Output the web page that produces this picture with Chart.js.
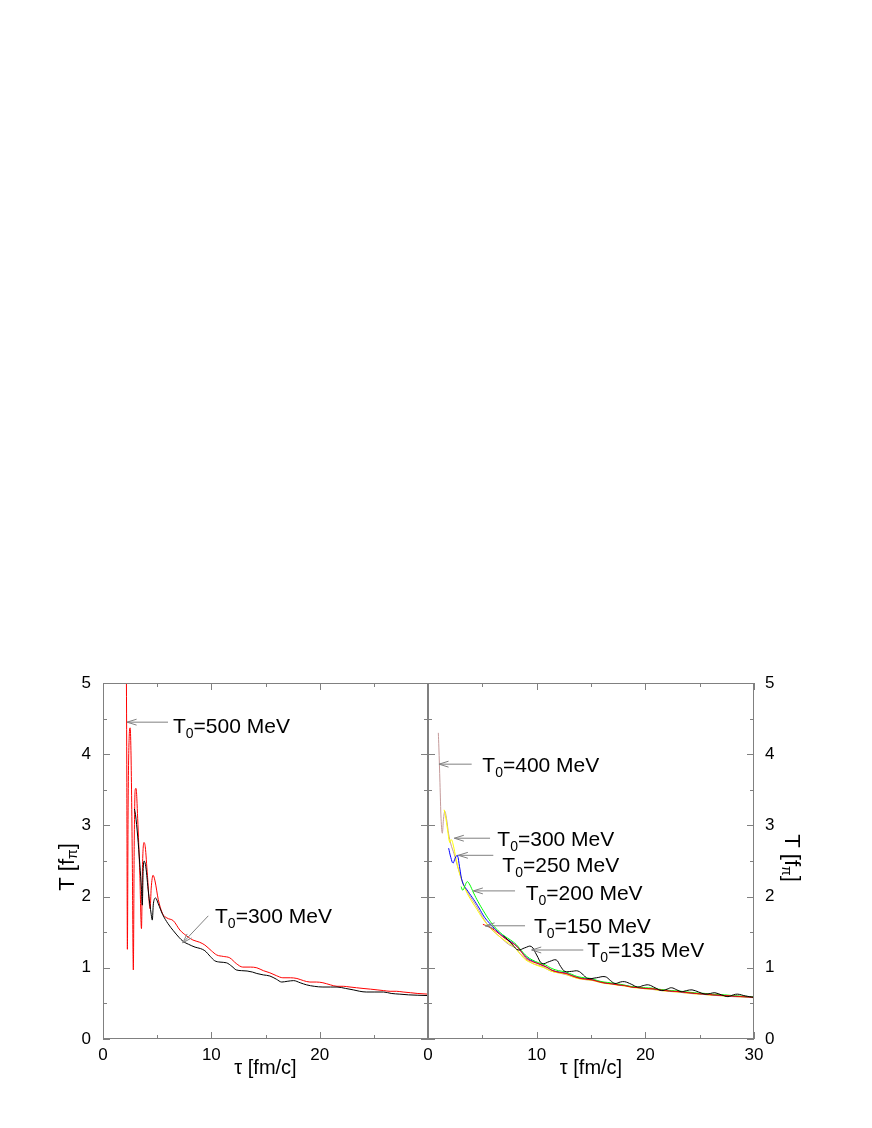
<!DOCTYPE html>
<html>
<head>
<meta charset="utf-8">
<script src="https://cdn.jsdelivr.net/npm/chart.js@4.4.0/dist/chart.umd.min.js"></script>
<style>
  body { margin: 0; background: #fff; }
  canvas { position: absolute; top: 640px; }
  #left { left: 0; }
  #right { left: 420px; }
</style>
</head>
<body>
<canvas id="left" width="440" height="460"></canvas>
<canvas id="right" width="452" height="460"></canvas>
<script>
// ticks
const xMajor = [0, 10, 20, 30];
const xMinor = [5, 15, 25];
const yMajor = [0, 1, 2, 3, 4, 5];
const yMinor = [0.5, 1.5, 2.5, 3.5, 4.5];
const xLabelsLeft = [0, 10, 20];
const xLabelsRight = [0, 10, 20, 30];

// left panel: T0 = 500 MeV (red), T0 = 300 MeV (black)
const tau500 = [2.15, 2.2, 2.25, 2.32, 2.42, 2.5, 2.58, 2.7, 2.8, 2.88, 2.97, 3.05, 3.2, 3.4, 3.55, 3.65, 3.78, 3.9, 4.1, 4.35, 4.45, 4.62, 4.8, 5.1, 5.5, 5.9, 6.5, 7.1, 7.7, 8.3, 8.9, 9.4, 10.0, 10.5, 11.1, 11.7, 12.3, 12.9, 13.6, 14.2, 14.8, 15.4, 16.0, 16.6, 17.3, 17.9, 18.5, 19.1, 19.7, 20.3, 21.0, 21.6, 22.2, 22.8, 23.4, 24.0, 24.7, 25.3, 25.9, 26.5, 27.1, 27.7, 28.4, 29.0, 30.0];
const temp500 = [5.5, 3.6, 1.26, 3.3, 4.25, 4.37, 4.05, 2.6, 0.97, 2.7, 3.5, 3.52, 3.1, 2.3, 1.55, 2.45, 2.76, 2.7, 2.3, 1.83, 2.12, 2.30, 2.22, 1.96, 1.76, 1.70, 1.66, 1.53, 1.45, 1.39, 1.36, 1.32, 1.24, 1.18, 1.16, 1.14, 1.06, 1.01, 1.01, 1.0, 0.96, 0.93, 0.89, 0.86, 0.86, 0.85, 0.82, 0.80, 0.80, 0.79, 0.76, 0.74, 0.74, 0.73, 0.72, 0.71, 0.70, 0.69, 0.68, 0.67, 0.67, 0.66, 0.65, 0.64, 0.63];
const tau300L = [2.9, 3.0, 3.2, 3.4, 3.55, 3.63, 3.7, 3.8, 3.95, 4.2, 4.45, 4.55, 4.65, 4.86, 5.1, 5.5, 6.0, 6.5, 7.0, 7.4, 7.9, 8.5, 9.0, 9.4, 9.9, 10.3, 10.8, 11.4, 11.9, 12.3, 12.8, 13.3, 13.8, 14.2, 14.8, 15.4, 16.0, 16.5, 17.0, 17.6, 18.2, 18.8, 19.5, 20.3, 21.0, 21.6, 22.4, 23.1, 23.7, 24.3, 25.1, 25.9, 26.6, 27.4, 28.2, 29.0, 30.0];
const temp300L = [3.23, 3.15, 2.85, 2.45, 2.1, 1.88, 2.35, 2.50, 2.42, 2.05, 1.75, 1.67, 1.9, 1.98, 1.9, 1.75, 1.62, 1.52, 1.43, 1.37, 1.33, 1.29, 1.27, 1.24, 1.16, 1.10, 1.08, 1.07, 1.02, 0.97, 0.96, 0.955, 0.94, 0.92, 0.90, 0.885, 0.84, 0.80, 0.81, 0.82, 0.79, 0.76, 0.74, 0.73, 0.73, 0.73, 0.71, 0.69, 0.67, 0.66, 0.66, 0.66, 0.64, 0.63, 0.62, 0.615, 0.61];

// right panel
const tau400 = [0.95, 1.0, 1.1, 1.2, 1.32, 1.42, 1.55, 1.7, 1.9, 2.1, 2.4, 2.8, 3.3, 3.8, 4.4, 5.0, 5.6, 6.2, 6.8, 7.4, 8.0, 8.6, 9.2, 9.8, 10.5, 11.2, 12.0, 12.8, 13.6, 14.4, 15.2, 16.0, 16.8, 17.6, 18.4, 19.2, 20.0, 21.0, 22.0, 23.0, 24.0, 25.0, 26.0, 27.0, 28.0, 29.0, 30.0];
const temp400 = [4.30, 4.1, 3.6, 3.1, 2.89, 3.08, 3.2, 3.1, 2.88, 2.74, 2.6, 2.38, 2.16, 2.02, 1.88, 1.72, 1.58, 1.49, 1.41, 1.33, 1.28, 1.18, 1.10, 1.05, 1.02, 0.96, 0.93, 0.90, 0.86, 0.835, 0.82, 0.79, 0.775, 0.755, 0.74, 0.725, 0.705, 0.69, 0.672, 0.66, 0.64, 0.632, 0.615, 0.607, 0.595, 0.588, 0.58];
const tau300 = [1.48, 1.6, 1.8, 2.0, 2.15, 2.3, 2.6, 3.0, 3.5, 4.0, 4.5, 5.0, 5.5, 6.0, 6.5, 7.0, 7.5, 8.0, 8.5, 9.0, 9.5, 10.1, 10.7, 11.4, 12.0, 12.6, 13.2, 13.8, 14.5, 15.1, 15.7, 16.3, 16.9, 17.5, 18.1, 18.7, 19.4, 20.0, 20.6, 21.2, 21.8, 22.4, 23.0, 23.6, 24.2, 24.9, 25.5, 26.1, 26.7, 27.3, 27.9, 28.5, 29.2, 30.0];
const temp300 = [3.22, 3.14, 2.94, 2.76, 2.80, 2.74, 2.52, 2.28, 2.08, 1.94, 1.82, 1.70, 1.60, 1.52, 1.45, 1.39, 1.34, 1.28, 1.19, 1.11, 1.07, 1.03, 1.00, 0.95, 0.93, 0.915, 0.88, 0.85, 0.835, 0.825, 0.80, 0.78, 0.77, 0.755, 0.745, 0.725, 0.715, 0.705, 0.70, 0.685, 0.675, 0.665, 0.66, 0.65, 0.64, 0.63, 0.625, 0.615, 0.61, 0.605, 0.60, 0.595, 0.59, 0.58];
const tau250 = [1.9, 2.1, 2.3, 2.5, 2.7, 2.9, 3.2, 3.7, 4.2, 4.7, 5.2, 5.7, 6.2, 6.7, 7.2, 7.7, 8.2, 8.7, 9.2, 9.7, 10.3, 10.9, 11.5, 12.1, 12.7, 13.3, 13.9, 14.6, 15.2, 15.8, 16.4, 17.0, 17.6, 18.2, 18.8, 19.5, 20.1, 20.7, 21.3, 21.9, 22.5, 23.1, 23.7, 24.3, 25.0, 25.6, 26.2, 26.8, 27.4, 28.0, 28.6, 29.3, 30.0];
const temp250 = [2.68, 2.55, 2.47, 2.54, 2.58, 2.42, 2.19, 2.07, 1.96, 1.84, 1.71, 1.62, 1.54, 1.47, 1.41, 1.36, 1.30, 1.21, 1.13, 1.09, 1.05, 1.01, 0.96, 0.94, 0.925, 0.89, 0.86, 0.845, 0.83, 0.805, 0.785, 0.775, 0.76, 0.75, 0.73, 0.72, 0.71, 0.705, 0.69, 0.68, 0.67, 0.665, 0.655, 0.645, 0.635, 0.63, 0.62, 0.615, 0.61, 0.603, 0.598, 0.593, 0.585];
const tau200 = [3.05, 3.2, 3.4, 3.6, 3.8, 4.2, 4.6, 5.1, 5.6, 6.1, 6.6, 7.1, 7.6, 8.1, 8.6, 9.1, 9.6, 10.2, 10.8, 11.4, 12.0, 12.6, 13.2, 13.8, 14.4, 15.0, 15.6, 16.2, 16.8, 17.4, 18.0, 18.6, 19.3, 20.0, 20.6, 21.2, 21.8, 22.4, 23.0, 23.6, 24.2, 24.9, 25.5, 26.1, 26.7, 27.3, 27.9, 28.5, 29.2, 30.0];
const temp200 = [2.14, 2.09, 2.15, 2.21, 2.18, 2.05, 1.93, 1.80, 1.68, 1.58, 1.50, 1.44, 1.39, 1.33, 1.24, 1.16, 1.11, 1.07, 1.04, 0.99, 0.96, 0.945, 0.91, 0.875, 0.86, 0.85, 0.82, 0.80, 0.79, 0.775, 0.76, 0.74, 0.73, 0.72, 0.715, 0.70, 0.69, 0.68, 0.675, 0.665, 0.655, 0.645, 0.64, 0.63, 0.625, 0.62, 0.612, 0.605, 0.60, 0.59];
const tau150 = [5.05, 5.4, 5.7, 6.1, 6.6, 7.1, 7.6, 8.1, 8.6, 9.1, 9.7, 10.3, 10.9, 11.5, 12.1, 12.7, 13.3, 13.9, 14.5, 15.1, 15.7, 16.3, 16.9, 17.5, 18.1, 18.7, 19.4, 20.0, 20.7, 21.3, 21.9, 22.5, 23.1, 23.7, 24.3, 25.0, 25.6, 26.2, 26.8, 27.4, 28.0, 28.6, 29.3, 30.0];
const temp150 = [1.61, 1.59, 1.57, 1.53, 1.47, 1.41, 1.36, 1.31, 1.22, 1.13, 1.08, 1.05, 1.01, 0.96, 0.935, 0.92, 0.885, 0.855, 0.84, 0.83, 0.805, 0.785, 0.775, 0.76, 0.75, 0.73, 0.72, 0.71, 0.705, 0.69, 0.68, 0.67, 0.665, 0.655, 0.645, 0.635, 0.63, 0.62, 0.615, 0.61, 0.603, 0.598, 0.592, 0.585];
const tau135 = [6.93, 7.3, 7.8, 8.3, 8.9, 9.5, 10.0, 10.5, 11.2, 11.8, 12.2, 12.6, 13.2, 13.8, 14.3, 14.7, 15.5, 16.3, 16.8, 17.2, 17.7, 18.1, 18.7, 19.3, 19.8, 20.3, 20.9, 21.5, 22.0, 22.4, 22.9, 23.3, 23.8, 24.3, 24.9, 25.5, 26.0, 26.4, 27.0, 27.6, 28.1, 28.5, 29.2, 30.0];
const temp135 = [1.45, 1.40, 1.32, 1.25, 1.28, 1.30, 1.18, 1.06, 1.09, 1.11, 1.02, 0.95, 0.95, 0.955, 0.90, 0.85, 0.86, 0.875, 0.82, 0.78, 0.80, 0.805, 0.77, 0.73, 0.75, 0.76, 0.72, 0.68, 0.70, 0.72, 0.69, 0.665, 0.68, 0.69, 0.66, 0.63, 0.64, 0.65, 0.62, 0.595, 0.62, 0.63, 0.605, 0.585];

const FONT = '"Liberation Sans", Arial, Helvetica, sans-serif';

function pts(xs, ys) {
  return xs.map((x, i) => ({ x: x, y: ys[i] }));
}

// sharp spikes -> monotone; gentle wiggles -> plain bezier
function line(label, xs, ys, color, smooth) {
  return {
    label: label,
    data: pts(xs, ys),
    borderColor: color,
    borderWidth: 1,
    pointRadius: 0,
    fill: false,
    cubicInterpolationMode: smooth ? "default" : "monotone",
    tension: smooth ? 0.4 : 0,
  };
}

// text made of [string, fontSize, dy] pieces (for subscripts)
function piecesWidth(ctx, pieces) {
  let w = 0;
  for (const [t, size] of pieces) {
    ctx.font = size + "px " + FONT;
    w += ctx.measureText(t).width;
  }
  return w;
}
function drawPieces(ctx, pieces, x, y) {
  for (const [t, size, dy] of pieces) {
    ctx.font = size + "px " + FONT;
    ctx.fillText(t, x, y + dy);
    x += ctx.measureText(t).width;
  }
}

const yTitle = [["T [f", 22, 0], ["\u03c0", 14, 5], ["]", 22, 0]];
const xTitle = [["\u03c4 [fm/c]", 20, 0]];

// annotation arrows, in data units: tip, tail, text start (x, baseline)
const setup = {
  left: {
    side: "left",
    xLabels: xLabelsLeft,
    notes: [
      { t: "500", tip: [2.22, 4.45], tail: [6.0, 4.45], at: [6.46, 4.3] },
      { t: "300", tip: [7.36, 1.35], tail: [9.72, 1.73], at: [10.34, 1.625] },
    ],
  },
  right: {
    side: "right",
    xLabels: xLabelsRight,
    notes: [
      { t: "400", tip: [1.01, 3.86], tail: [4.02, 3.86], at: [5.0, 3.755] },
      { t: "300", tip: [2.42, 2.82], tail: [5.71, 2.82], at: [6.38, 2.71] },
      { t: "250", tip: [2.79, 2.58], tail: [6.01, 2.58], at: [6.84, 2.35] },
      { t: "200", tip: [4.17, 2.08], tail: [8.01, 2.08], at: [8.99, 1.95] },
      { t: "150", tip: [5.25, 1.59], tail: [8.93, 1.59], at: [9.75, 1.485] },
      { t: "135", tip: [9.54, 1.25], tail: [14.29, 1.25], at: [14.66, 1.155] },
    ],
  },
};

const framePlugin = {
  id: "frame",
  afterDraw(chart) {
    const s = setup[chart.canvas.id];
    const ctx = chart.ctx;
    const { left, right, top, bottom } = chart.chartArea;
    const xs = chart.scales.x;
    const ys = chart.scales.y;
    ctx.save();
    ctx.strokeStyle = "#808080";
    ctx.lineWidth = 1;
    ctx.strokeRect(left + 0.5, top + 0.5, right - left - 1, bottom - top - 1);

    ctx.beginPath();
    const tickX = (v, len) => {
      const px = Math.round(xs.getPixelForValue(v)) + 0.5;
      ctx.moveTo(px, bottom); ctx.lineTo(px, bottom - len);
      ctx.moveTo(px, top); ctx.lineTo(px, top + len);
    };
    const tickY = (v, len) => {
      const py = Math.round(ys.getPixelForValue(v)) + 0.5;
      ctx.moveTo(left, py); ctx.lineTo(left + len, py);
      ctx.moveTo(right, py); ctx.lineTo(right - len, py);
    };
    xMajor.forEach(v => tickX(v, 7));
    xMinor.forEach(v => tickX(v, 4));
    yMajor.forEach(v => tickY(v, 7));
    yMinor.forEach(v => tickY(v, 4));
    ctx.stroke();

    // tick labels
    ctx.fillStyle = "#000";
    ctx.font = "17px " + FONT;
    ctx.textBaseline = "middle";
    ctx.textAlign = "center";
    s.xLabels.forEach(v => ctx.fillText(String(v), xs.getPixelForValue(v), bottom + 16));
    if (s.side === "left") {
      ctx.textAlign = "right";
      yMajor.forEach(v => ctx.fillText(String(v), left - 12, ys.getPixelForValue(v)));
    } else {
      ctx.textAlign = "left";
      yMajor.forEach(v => ctx.fillText(String(v), right + 11, ys.getPixelForValue(v)));
    }

    // axis titles
    ctx.textAlign = "left";
    ctx.textBaseline = "middle";
    const xw = piecesWidth(ctx, xTitle);
    drawPieces(ctx, xTitle, (left + right) / 2 - xw / 2, bottom + 29);
    const yw = piecesWidth(ctx, yTitle);
    const midY = (top + bottom) / 2;
    ctx.save();
    if (s.side === "left") {
      ctx.translate(left - 35, midY + 6);
      ctx.rotate(-Math.PI / 2);
    } else {
      ctx.translate(right + 37, midY - 3);
      ctx.rotate(Math.PI / 2);
    }
    drawPieces(ctx, yTitle, -yw / 2, 0);
    ctx.restore();

    // arrows and labels
    ctx.strokeStyle = "#808080";
    ctx.textBaseline = "alphabetic";
    for (const n of s.notes) {
      const tx = xs.getPixelForValue(n.tip[0]), ty = ys.getPixelForValue(n.tip[1]);
      const fx = xs.getPixelForValue(n.tail[0]), fy = ys.getPixelForValue(n.tail[1]);
      const ang = Math.atan2(fy - ty, fx - tx);
      ctx.beginPath();
      ctx.moveTo(fx, fy); ctx.lineTo(tx, ty);
      ctx.moveTo(tx + 10 * Math.cos(ang + 0.3), ty + 10 * Math.sin(ang + 0.3));
      ctx.lineTo(tx, ty);
      ctx.lineTo(tx + 10 * Math.cos(ang - 0.3), ty + 10 * Math.sin(ang - 0.3));
      ctx.stroke();
      drawPieces(ctx, [["T", 21, 0], ["0", 14, 5], ["=" + n.t + " MeV", 21, 0]],
        xs.getPixelForValue(n.at[0]), ys.getPixelForValue(n.at[1]));
    }
    ctx.restore();
  },
};

function makeOptions(padding) {
  return {
    responsive: false,
    animation: false,
    devicePixelRatio: 1,
    layout: { padding: padding },
    plugins: { legend: { display: false }, tooltip: { enabled: false } },
    scales: {
      x: { type: "linear", min: 0, max: 30, display: false },
      y: { type: "linear", min: 0, max: 5, display: false },
    },
  };
}

new Chart(document.getElementById("left"), {
  type: "line",
  data: {
    datasets: [
      line("T0=300 MeV", tau300L, temp300L, "#000000", false),
      line("T0=500 MeV", tau500, temp500, "#ff0000", false),
    ],
  },
  options: makeOptions({ left: 103, right: 12, top: 43, bottom: 61 }),
  plugins: [framePlugin],
});

new Chart(document.getElementById("right"), {
  type: "line",
  data: {
    datasets: [
      line("T0=135 MeV", tau135, temp135, "#000000", true),
      line("T0=150 MeV", tau150, temp150, "#ff0000", true),
      line("T0=200 MeV", tau200, temp200, "#00ff00", true),
      line("T0=250 MeV", tau250, temp250, "#0000ff", true),
      line("T0=300 MeV", tau300, temp300, "#ffff00", true),
      line("T0=400 MeV", tau400, temp400, "#c49a9a", false),
    ],
  },
  options: makeOptions({ left: 8, right: 118, top: 43, bottom: 61 }),
  plugins: [framePlugin],
});
</script>
</body>
</html>
